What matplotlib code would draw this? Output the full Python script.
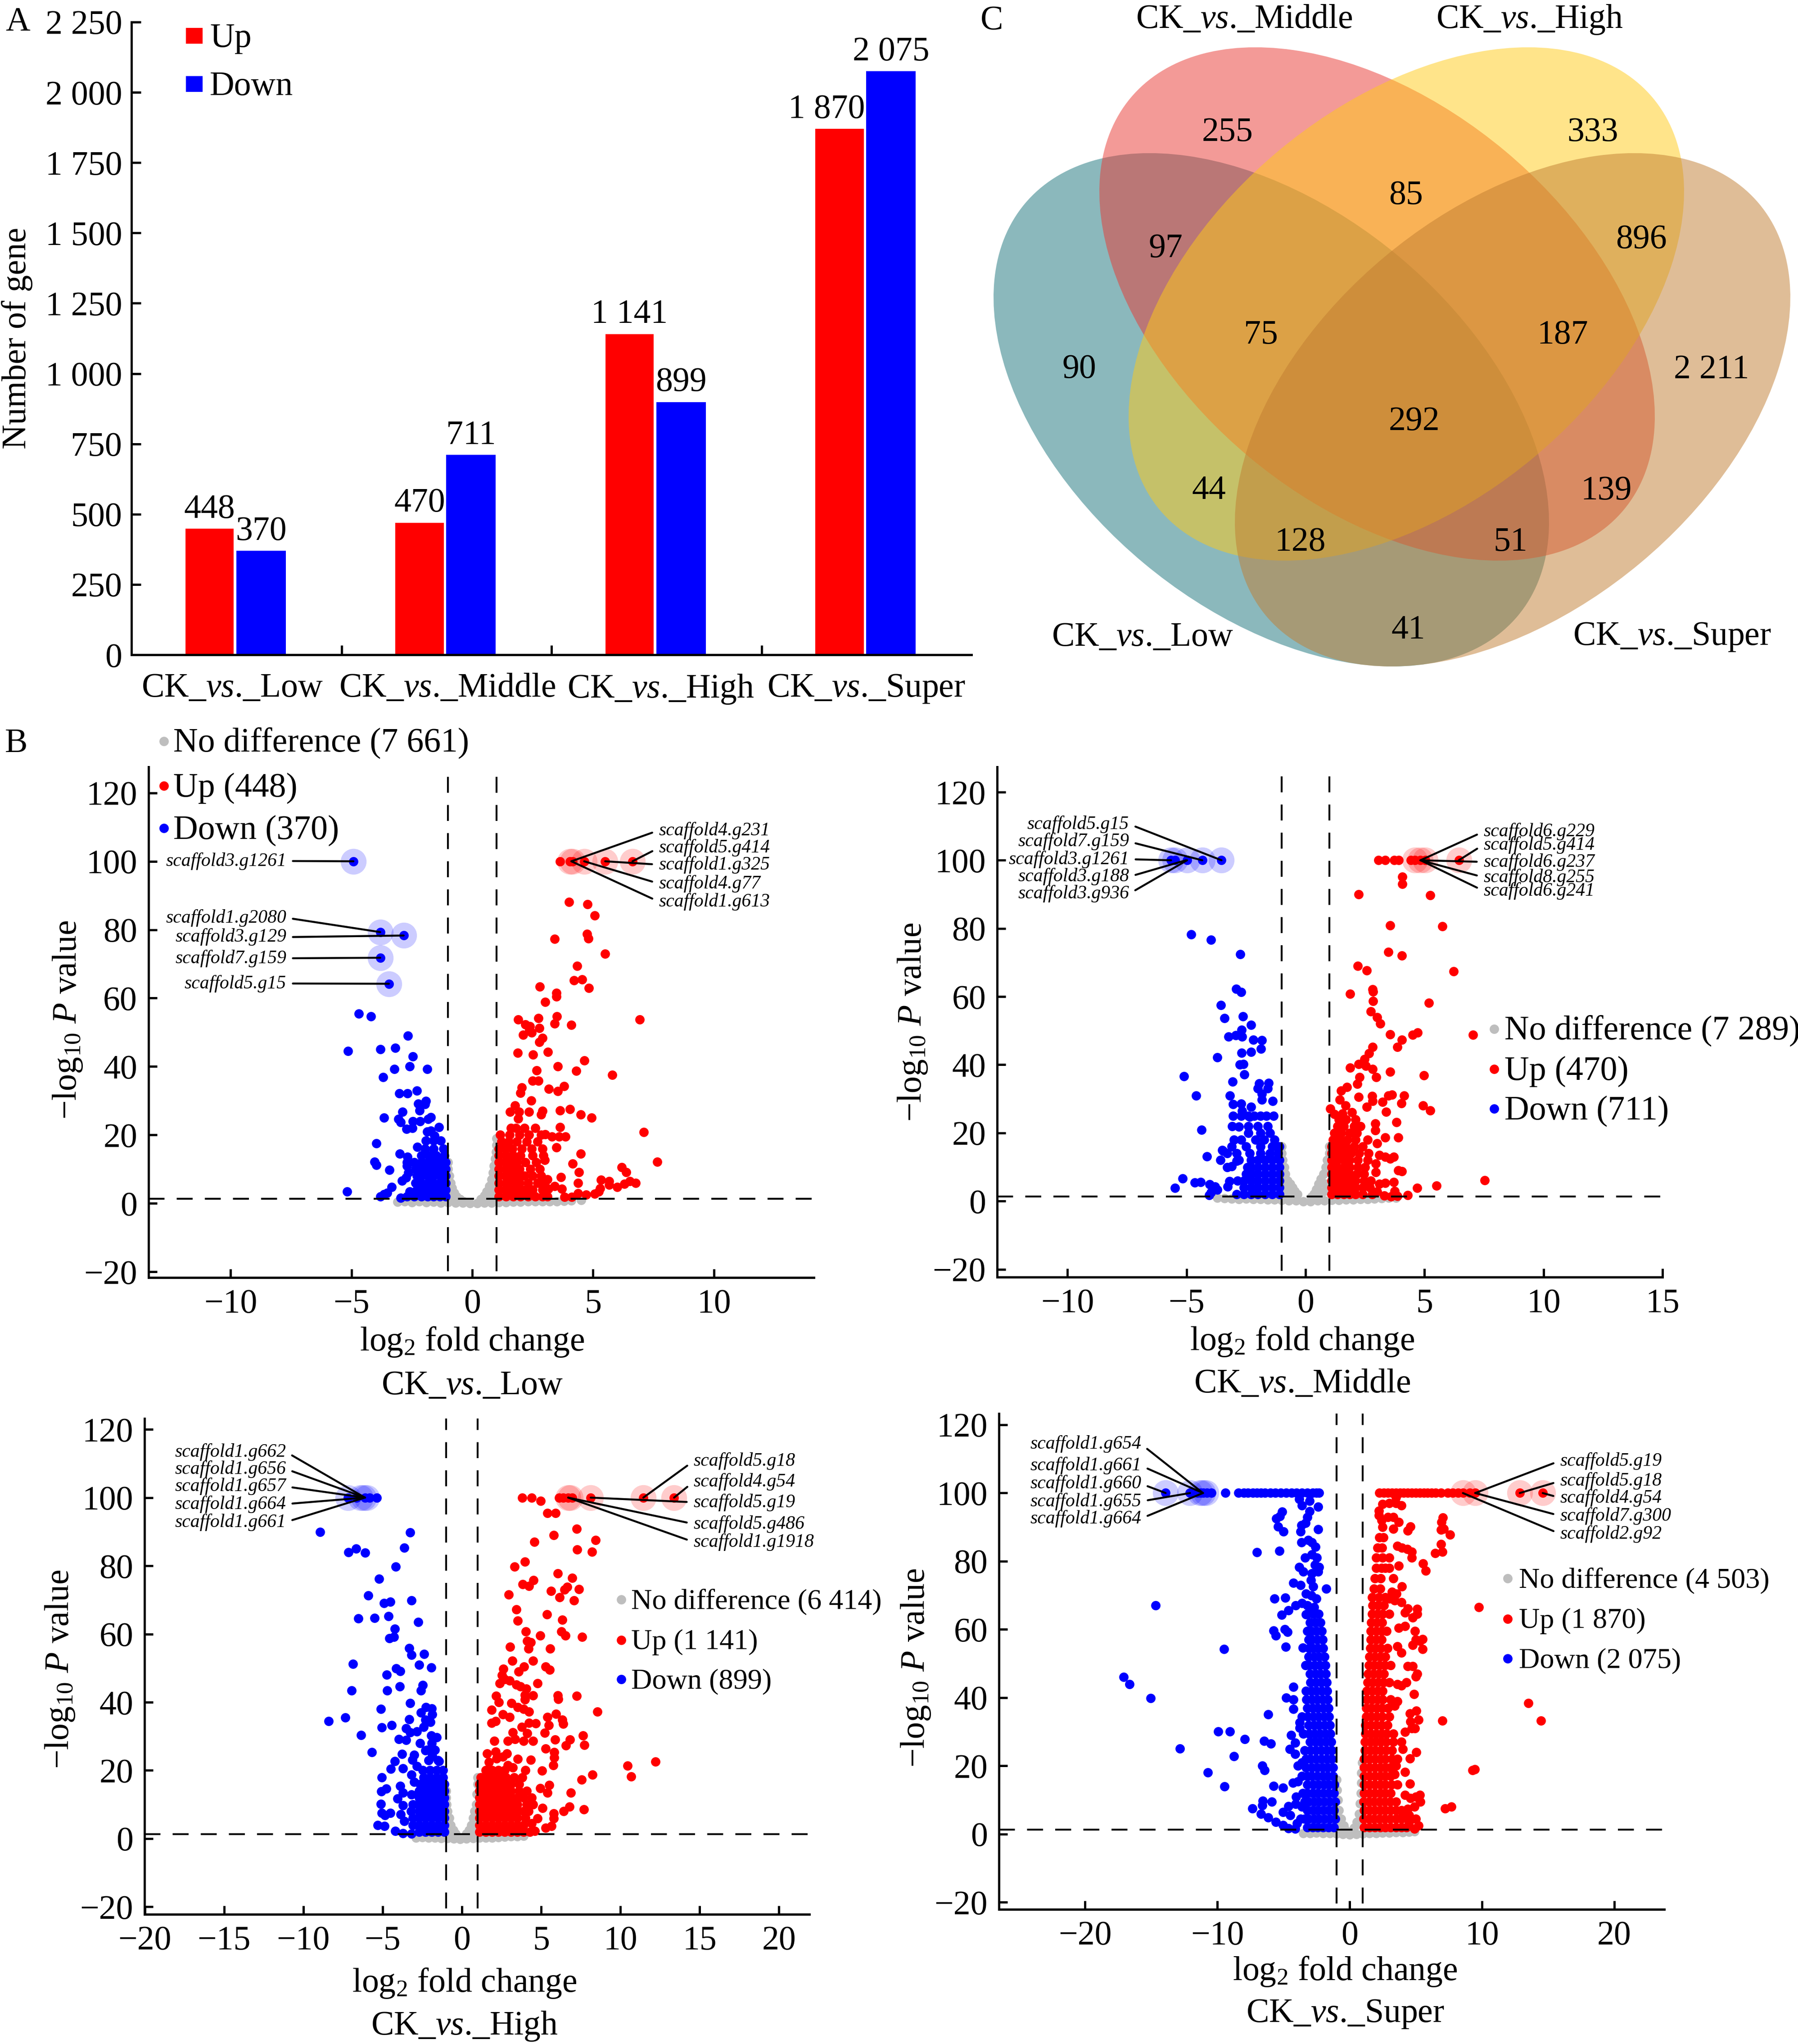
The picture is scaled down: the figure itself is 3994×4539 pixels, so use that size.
import matplotlib
matplotlib.use("Agg")
import matplotlib.pyplot as plt
from matplotlib.patches import Ellipse, Rectangle

plt.rcParams["font.family"] = ["Liberation Serif", "DejaVu Serif"]
plt.rcParams["mathtext.fontset"] = "custom"
plt.rcParams["mathtext.rm"] = "Liberation Serif"
plt.rcParams["mathtext.it"] = "Liberation Serif:italic"
plt.rcParams["mathtext.bf"] = "Liberation Serif:bold"

W, H = 3994, 4539
FS = 18.2
DOT = 25

# panel A
groups = ["Low", "Middle", "High", "Super"]
up_counts = [448, 470, 1141, 1870]
down_counts = [370, 711, 899, 2075]
count_ticks = [0, 250, 500, 750, 1000, 1250, 1500, 1750, 2000, 2250]

# panel C
venn_sets = ["Low", "Middle", "High", "Super"]
venn_counts = [255, 333, 85, 97, 896, 75, 187, 90, 2211, 292, 44, 139, 128, 51, 41]

# panel B, significant points: (log2fc, -log10p)
grey_low = [(-3.1,.4),(-2.8,.5),(-2.5,.3),(-2.2,.5),(-1.9,.3),(-1.6,.4),(-1.3,.2),(-1,.3),(-.7,.1),(-.4,.1),(-.1,0),(.2,0),(.5,.1),(.8,.2),(1.1,.3),(1.4,.3),(1.7,.4),(2,.4),(2.3,.5),(2.6,.5),(2.9,.6),(3.2,.6),(3.5,.6),(3.8,.7),(4.1,.8),(4.5,1),
    (-1,12),(-1,10),(-.95,8),(-.9,6),(-.85,4.5),(-.75,3),(-.65,2),(-.5,1.2),(-.35,.6),(-1,2),(-1,4),(-1,6),(-.85,2),
    (1,19),(1,17),(.98,15),(.95,13),(.9,11),(.85,9),(.8,7),(.7,5),(.6,3.5),(.5,2.2),(.35,1.2),(.95,5),(.95,8),(.9,3),(.75,2)]
down_low = [(-4.92,100),(-3.81,79.3),(-2.84,78.3),(-3.81,71.8),(-3.45,64.2),(-4.7,55.5),(-4.2,54.6),(-2.66,49),(-5.15,44.5),(-3.81,45),(-3.18,45.4),(-2.46,43),(-2.6,40.1),(-3.23,39.2),(-1.87,39.3),(-3.7,36.9),(-3.02,32.2),(-2.69,32.2),(-2.3,33),(-2.23,29.1),(-1.92,29.9),(-1.96,29),(-2.89,26.7),(-2.19,27.1),(-3.66,25.1),(-3.05,24.7),(-2.96,23.7),(-1.72,25.2),(-1.83,24.6),(-2.46,24),(-2.17,24),(-2.73,21.7),(-2.48,22),(-1.38,22.3),(-1.87,21),(-1.72,21.2),(-1.56,19.8),(-3.97,17.5),(-1.92,18.3),(-1.31,18.3),(-1.6,18.3),(-2.28,16.5),(-3,14.5),(-2.69,13.6),(-4.04,12.1),(-3.97,11.2),(-3.43,9.8),(-2.7,11),(-2.65,9),(-2.75,7.5),(-2.91,6.6),(-3.34,4.8),(-5.19,3.5),(-3.52,3),(-3.65,2.6),(-3.81,2),(-2.96,1.6),(-2.6,3.5)]
down_low_rows = [(2,[-1.1,-1.35,-1.6,-1.85,-2.1,-2.4,-2.7]),(4,[-1.1,-1.35,-1.6,-1.85,-2.1,-2.3]),(6,[-1.1,-1.35,-1.6,-1.85,-2.1,-2.35]),(8,[-1.1,-1.35,-1.6,-1.85,-2.1,-2.3]),(10,[-1.1,-1.35,-1.6,-1.85,-2.1,-2.35]),(12,[-1.1,-1.35,-1.6,-1.85,-2.1,-2.4,-2.7]),(14,[-1.15,-1.5,-1.8,-2.1]),(16,[-1.2,-1.6,-1.95])]
up_low = [(3.63,100),(4.04,100),(4.15,100),(4.63,100),(5.5,100),(6.63,100),(4,88.1),(4.76,87.4),(5.06,84.2),(4.74,78.8),(4.81,77.4),(3.41,77.3),(5.49,73),(4.33,69.4),(4.2,65.2),(4.54,65.4),(4.83,63),(2.8,63.4),(3.48,61.5),(3.48,60.4),(3.02,58.9),(6.93,53.8),(1.9,53.7),(2.73,54.2),(3.5,54.6),(3.41,52.6),(4.09,52.1),(2.19,52.3),(2.39,51.8),(2.37,50.7),(2.78,51.2),(2.1,49.3),(2.46,49.9),(2.91,48.4),(2.78,47.2),(1.87,44),(2.51,43.5),(3.12,44.3),(4.63,41.7),(3.54,40),(4.31,38.7),(2.66,38.8),(5.8,37.5),(2.5,35.8),(2.73,35.8),(2.05,33.9),(2,32.3),(3.16,33.4),(3.54,32.8),(3.79,34.3),(2.44,30),(1.76,28.6),(3.63,27.1),(4.04,27.6),(4.49,25.9),(4.94,25.1),(1.56,26.7),(1.94,26.7),(2.35,26.7),(2.91,27),(2.84,25.9),(1.9,24.8),(3.02,20.2),(3.3,19.5),(3.59,19.5),(3.86,19.5),(3.63,22.3),(3.48,16.4),(4.49,14.5),(4.15,11.6),(6.18,10.5),(6.37,9.1),(7.65,12.2),(7.09,20.8),(4.42,9.1),(3.66,7.6),(4.38,6),(5.33,6.9),(5.67,6.5),(5.67,5.4),(6,4.8),(6.3,5.7),(6.52,6.5),(6.77,5.9),(5.28,4.4),(5.24,3.5),(5.06,2.8),(4.72,2.5),(4.38,2.9),(4.11,1.9),(3.81,1.9),(3.41,5),(3.14,4.2),(3.7,4.2),(3.1,7),(3,12.6)]
up_low_rows = [(2,[1.1,1.4,1.7,2,2.3,2.6,2.9,3.1]),(4,[1.1,1.35,1.6,1.9,2.2,2.5,2.9]),(6,[1.1,1.4,1.7,1.95,2.3,2.7,3]),(8,[1.1,1.35,1.6,1.9,2.15,2.5,2.85]),(10,[1.1,1.4,1.7,1.95,2.4,2.8]),(12,[1.1,1.35,1.6,1.85,2.2,2.65]),(14,[1.1,1.4,1.7,2,2.5,2.95]),(16,[1.1,1.35,1.65,2.05,2.45,2.9]),(18,[1.2,1.5,1.85,2.25,2.7]),(20,[1.15,1.55,1.95,2.35,2.85]),(22,[1.6,1.8,2.15,2.6])]

grey_middle = [(-3.7,.9),(-3.4,.8),(-3.1,.7),(-2.8,.6),(-2.5,.7),(-2.2,.6),(-1.9,.6),(-1.6,.4),(-1.3,.4),(-1,.3),(-.7,.1),(-.4,.1),(-.1,-.1),(.2,-.1),(.5,.1),(.8,.2),(1.1,.3),(1.4,.3),(1.7,.4),(2,.4),(2.3,.5),(2.6,.6),(2.9,.7),(3.2,.8),(3.5,.9),(3.8,1),
    (-1,16),(-1,14),(-.97,12),(-.9,10),(-.85,8),(-.75,6),(-.65,5),(-.55,4),(-.45,3),(-.35,2),(-.9,5),(-.85,3),(-.7,2),
    (1,16),(1,14),(.9,12),(.85,10),(.75,8),(.65,6.5),(.55,5),(.45,3.5),(.35,2.2),(.25,1.2),(.85,5),(.8,3),(.6,2)]
down_middle = [(-3.53,100),(-4.34,100),(-5.65,100),(-5.48,100),(-4.98,100),(-4.81,78.2),(-3.97,76.7),(-2.74,72.4),(-2.91,62.3),(-2.71,61.4),(-3.55,57.5),(-3.4,53.7),(-2.64,54.2),(-2.29,51.7),(-2.69,50.2),(-3.23,48.3),(-2.94,48.7),(-2.66,48.3),(-2.2,47.3),(-1.83,47.2),(-1.87,44.7),(-2.29,43.8),(-2.69,43.5),(-3.7,42.2),(-2.76,40),(-2.61,40.2),(-2.57,37.2),(-5.11,36.6),(-3.06,35.1),(-1.95,34.5),(-1.55,34.7),(-2,33),(-1.6,33),(-1.83,31.5),(-4.59,30.9),(-3.18,31),(-1.83,29.8),(-1.38,29.3),(-3.05,28.5),(-2.7,28.6),(-2.3,27.7),(-2.66,26.5),(-3.05,25),(-2.35,24.8),(-4.37,20.9),(-3.08,22),(-2.8,21.8),(-4.14,13.1),(-3.47,14.7),(-3.57,12),(-5.16,6.7),(-5.48,3.8),(-4.65,5.5),(-4.4,5.6),(-4.03,4.9),(-3.8,4.2),(-3.97,2.5),(-4.05,1.7),(-3.27,4.2),(-3.2,5.9),(-3.7,3.3),(-3.3,10),(-3.1,10.2),(-2.9,11.8),(-3.5,15)]
down_middle_rows = [(2,[-1.1,-1.4,-1.7,-2,-2.3,-2.6,-2.9]),(4,[-1.1,-1.4,-1.7,-2,-2.3,-2.6]),(6,[-1.1,-1.4,-1.7,-2,-2.3,-2.6,-2.85]),(8,[-1.1,-1.4,-1.7,-2,-2.3,-2.5]),(10,[-1.1,-1.4,-1.7,-2,-2.3,-2.45]),(12,[-1.1,-1.4,-1.7,-2,-2.3,-2.8]),(14,[-1.15,-1.5,-1.9,-2.35,-2.9,-3.3]),(16,[-1.1,-1.4,-1.9,-2.5,-3.1]),(18,[-1.3,-1.75,-2.1,-2.7,-3]),(20,[-1.5,-1.9,-2.4]),(22,[-1.6,-2,-2.4]),(25,[-1.35,-1.65,-1.9,-2.15,-2.4,-2.7])]
up_middle = [(3.06,100),(3.35,100),(3.72,100),(3.92,100),(4.42,100),(4.59,100),(4.83,100),(5.03,100),(6.44,100),(4.07,95.1),(4.07,93),(2.24,90),(5.23,89.7),(3.55,80.9),(5.75,80.6),(3.48,73.1),(4.05,72.1),(2.2,69),(2.57,67.7),(6.22,67.4),(2.81,62.1),(2.84,61.5),(1.87,60.8),(2.84,58.7),(5.18,58.2),(2.74,55.6),(3.01,53.9),(3.13,52.1),(7.03,48.8),(4.71,49.4),(4.51,48.8),(3.55,48.9),(4.05,47.3),(3.85,45.2),(2.81,45.2),(2.66,43.4),(2.47,41.6),(2.24,40.2),(1.87,39.1),(2.54,39.7),(2.81,38.8),(3.55,38),(4.98,36.9),(2.27,36.4),(2.96,36.4),(2.17,34.4),(1.73,33.4),(1.5,32.4),(4.14,31),(3.63,31.2),(3.48,30.9),(2.79,30.8),(2.24,30.6),(1.43,29.7),(2.81,29.3),(3.23,29.1),(4.02,28.7),(4.93,28.1),(5.23,26.6),(1.04,27.1),(1.68,28.1),(2.57,27.7),(3.38,26.2),(1.2,25.5),(1.55,25.7),(1.95,26),(3.82,23.2),(2.94,22.7),(2.94,20.8),(3.9,18.7),(3.35,18.7),(3,17),(7.52,6.1),(5.5,4.5),(4.69,3.8),(4.29,1.8),(3.85,1.5),(3.6,1.4),(3.3,1.6),(3,2.8),(3.1,5),(3.35,5.3),(3.7,5.6),(3.75,3),(3.9,9),(4.05,8.7),(3.1,13.5),(3.35,13),(3.55,12.5),(3.7,13),(2.95,11),(2.95,8.5)]
up_middle_rows = [(2,[1.1,1.35,1.6,1.85,2.1,2.4,2.8]),(4,[1.1,1.35,1.6,1.85,2.1,2.4,2.7]),(6,[1.1,1.35,1.6,1.85,2.1,2.45,2.75]),(8,[1.1,1.35,1.6,1.85,2.15,2.45]),(10,[1.1,1.35,1.6,1.85,2.2,2.5]),(12,[1.1,1.35,1.6,1.85,2.2,2.6]),(14,[1.1,1.35,1.6,1.9,2.25,2.65]),(16,[1.1,1.4,1.7,2.05,2.4]),(18,[1.15,1.45,1.75,2.1,2.6]),(20,[1.2,1.5,1.85,2.15]),(22,[1.35,1.6,2.05,2.3]),(24,[1.4,1.7,2.1])]

grey_high = [(-2.9,.3),(-2.5,.4),(-2.1,.3),(-1.7,.2),(-1.3,.1),(-.9,.1),(-.5,0),(-.1,-.1),(.3,0),(.7,.1),(1.1,.2),(1.5,.3),(1.9,.3),(2.3,.4),(2.7,.5),(3.1,.6),(3.5,.7),(3.9,.8),
    (-1,14),(-1,12),(-.95,10),(-.9,8),(-.8,6),(-.7,4),(-.55,2.5),(-.4,1.4),(-.9,3),(-.75,1.6),
    (1,18),(1,16),(.95,13),(.9,10),(.8,8),(.7,6),(.6,4),(.45,2.5),(.3,1.4),(.85,3.5),(.7,1.8)]
down_high = [(-7.17,100),(-6.64,100),(-6.11,100),(-5.83,100),(-5.37,100),(-8.94,89.9),(-3.25,89.8),(-3.64,85.3),(-6.68,85.1),(-7.14,84),(-6.11,83.9),(-4.17,79.7),(-5.23,76.2),(-5.9,71.3),(-4.52,69.4),(-4.91,69),(-3.18,69.9),(-4.63,65.2),(-5.51,64.7),(-6.54,64.5),(-2.76,63.5),(-4.24,61.5),(-4.28,59.1),(-4.56,58.8),(-3.32,55.9),(-3.18,53.9),(-2.37,54.1),(-6.86,51.2),(-2.69,50.9),(-1.94,50.2),(-4.13,49.9),(-3.89,49.1),(-4.73,48),(-3.92,44.6),(-2.47,45),(-2.58,43.4),(-4.7,43.4),(-6.96,43.4),(-3.25,39.8),(-2.26,38.6),(-1.91,38.1),(-5.12,38),(-2.58,36.9),(-1.87,36.4),(-7.35,35.5),(-8.41,34.4),(-3.32,35),(-2.3,34.8),(-1.98,34.2),(-4.42,33.2),(-5.05,32.6),(-3.53,32.3),(-2.4,32.7),(-3.25,31.1),(-2.83,31.4),(-6.36,30.3),(-1.94,30.2),(-1.59,29.7),(-3.96,29.2),(-3.53,28.9),(-2.65,28),(-1.91,28),(-2.3,25.9),(-5.69,25.4),(-3.78,24.8),(-3,24.6),(-1.87,24.3),(-4.24,22.7),(-3.11,23.1),(-1.45,22.7),(-2.83,21.3),(-4.49,20.4),(-3.71,20.6),(-2.47,20),(-3.18,18.8),(-5.05,17.9),(-3,16.6),(-3.89,15.4),(-4.77,14.7),(-5.09,13.9),(-3.71,13.5),(-3.18,12.9),(-4.06,11.8),(-5.12,10.1),(-3.71,9.8),(-5.05,7.5),(-4.52,7.5),(-4.84,6.9),(-3.85,7.1),(-3.64,5.2),(-5.3,3.9),(-4.88,3.7),(-4.2,2.2),(-3.71,1.6),(-3.18,1.5)]
down_high_rows = [(2,[-1.1,-1.5,-1.9,-2.3,-2.7]),(4,[-1.1,-1.5,-1.9,-2.3,-2.7,-3.1]),(6,[-1.1,-1.5,-1.9,-2.3,-2.7,-3.1]),(8,[-1.1,-1.5,-1.9,-2.3,-2.7,-3.2]),(10,[-1.1,-1.5,-1.9,-2.3,-2.7,-3.1]),(12,[-1.1,-1.5,-1.9,-2.3,-2.7]),(14,[-1.1,-1.5,-1.9,-2.3,-2.7]),(16,[-1.1,-1.5,-1.9,-2.3,-2.65]),(18,[-1.2,-1.6,-2,-2.4]),(20,[-1.2,-1.6,-2]),(23,[-1.5,-2.1]),(26,[-1.7,-2.2])]
up_high = [(3.82,100),(4.42,100),(6.15,100),(6.4,100),(6.71,100),(6.96,100),(8.13,100),(11.45,100),(13.39,100),(4.98,99),(5.4,95.5),(5.9,95.5),(7.24,90.9),(5.8,89),(8.45,87.5),(4.59,87),(7.28,84.8),(8.2,84.1),(3.99,81.2),(3.32,79.7),(6.04,77.8),(6.96,76.4),(4.52,75.8),(3.85,74.6),(4.24,74.1),(6.64,73.8),(7.39,73.2),(6.47,73),(5.62,72.6),(2.97,71.6),(6.18,70.8),(7.07,69.9),(3.43,67.2),(5.37,65.7),(3.53,63.9),(6.33,64.2),(4.03,60.8),(6.29,60.8),(6.54,59.6),(4.95,59.6),(7.6,59.1),(4.13,58),(4.35,57.5),(3.04,56.3),(4.2,55.7),(5.58,55.7),(3.18,52.1),(4.49,52.2),(3.92,50.4),(5.3,50.4),(5.55,49.5),(2.61,49.8),(3.57,49),(2.54,47.9),(2.69,46.7),(3,46.4),(2.4,45.6),(3.43,45.2),(3.71,44.6),(4.77,45.5),(4.06,44),(3.99,42.1),(4.49,42),(2.16,41.9),(6.04,42),(7.24,41.9),(6.08,40.9),(2.33,40),(3.14,39.7),(3.99,40.8),(3.53,38.5),(3.89,38),(4.24,37.2),(1.87,37.8),(8.55,37.2),(5.94,36.6),(2.58,36.4),(3,35.7),(5.41,35.7),(6.33,34.8),(2.12,34.4),(1.87,33.9),(4.24,33.9),(4.66,33.8),(6.4,33.6),(5.48,33.2),(3.78,32.7),(3.22,31.1),(5.23,31),(4.13,30.9),(7.63,30.2),(4.49,28.6),(5.87,29),(6.82,29.1),(2.9,28.6),(2.05,28.6),(3.35,29.2),(3.89,28.6),(6.57,27.3),(7.74,27.4),(5.3,26.4),(2.12,25.5),(5.83,25.3),(2.83,25),(1.6,25),(5.83,23.7),(4.35,23.1),(3.53,23.4),(5.76,21.5),(5.05,19.9),(8.23,18.7),(7.56,17.3),(10.46,21.4),(12.23,22.6),(10.67,18.2),(5.51,15.7),(6.89,13.4),(5.41,13.4),(4.95,14.8),(6.78,9.3),(7.7,8.6),(6.43,8.1),(5.8,7.4),(5.09,9),(4.77,5.9),(5.8,5.9),(5.65,3.7),(5.3,3.2),(4.6,2.2),(4.4,4.5),(2.6,24),(2.2,23.5),(1.7,22.5),(2.9,21.5),(3.2,20.8),(4,20)]
up_high_rows = [(2,[1.1,1.5,1.9,2.3,2.7,3.1,3.5,3.9,4.3]),(4,[1.1,1.5,1.9,2.3,2.7,3.1,3.5,3.9]),(6,[1.1,1.5,1.9,2.3,2.7,3.1,3.5,4]),(8,[1.1,1.5,1.9,2.3,2.7,3.1,3.5,3.9,4.2]),(10,[1.1,1.5,1.9,2.3,2.7,3.1,3.5,4.1,4.5]),(12,[1.1,1.5,1.9,2.3,2.7,3.1,3.5,3.9,4.4]),(14,[1.1,1.5,1.9,2.3,2.7,3.1,3.6,4.1]),(16,[1.1,1.5,1.9,2.3,2.7,3.1,3.6]),(18,[1.2,1.6,2,2.4,2.8,3.3,3.8]),(20,[1.5,1.9,2.3,2.7])]

grey_super = [(-3.5,.2),(-3,.3),(-2.5,.4),(-2,.2),(-1.5,.2),(-1,.1),(-.5,0),(0,-.1),(.5,0),(1,.1),(1.5,.2),(2,.3),(2.5,.4),(3,.4),(3.5,.5),(4,.5),(4.5,.6),(4.9,.8),
    (-1,16),(-.95,13),(-.9,10),(-.8,7),(-.65,4.5),(-.45,2.5),(-.3,1.2),(-.9,3),
    (.95,21),(.9,18),(.88,15),(.85,12),(.8,9),(.7,6),(.55,3.5),(.35,1.8),(.8,3)]
down_super = [(-13.9,100),(-12.06,100),(-11.5,100),(-11.26,100),(-11.04,100),(-10.8,100),(-10.46,100),(-9.4,100),(-8.4,100),(-8,100),(-7.7,100),(-7.3,100),(-7,100),(-6.7,100),(-6.4,100),(-6,100),(-5.6,100),(-5.2,100),(-4.8,100),(-4.4,100),(-4,100),(-3.6,100),(-3.2,100),(-2.8,100),(-2.5,100),(-2.3,100),
    (-14.67,67),(-9.49,54.3),(-17.07,46.1),(-16.62,43.9),(-15.03,39.9),(-9.93,30.1),(-9.04,30.1),(-7.93,27.9),(-12.81,25.1),(-8.73,22.8),(-6.47,27.3),(-5.94,26.5),(-10.73,18.1),(-9.44,14),(-6.6,20.1),(-6.43,18.7),(-5.76,14.1),(-5.05,13.6),(-7.36,7.5),(-6.56,9.7),(-6.6,8.5),(-5.9,9.5),(-6.69,6),(-6.16,4.9),(-5.59,3.6),(-5.05,2.7),(-4.61,1.7),(-3.99,3.1),(-5.05,6.4),(-4.61,8.2),(-4.08,8.8),(-4.48,5.5),(-3.72,4.5),(-4.1,1.6),
    (-5.1,94.5),(-5.27,93.2),(-5.54,92.6),(-5.41,90.2),(-5.01,88.7),(-7,82.6),(-5.32,83),(-3.81,98.2),(-3.59,96.4),(-3.01,97.7),(-2.39,96),(-3.01,94.7),(-3.19,93),(-3.63,90.5),(-3.35,91.2),(-3.72,88.7),(-2.39,89.4),(-3.63,85.6),(-3.14,86.2),(-2.84,85.6),(-2.57,84.2),(-3.37,81),(-2.84,82),(-2.48,81),(-3.81,78.3),(-3.5,77),(-2.62,78.9),(-2.3,78.3),(-2.84,76.5),(-2.39,77),(-4.25,73.6),(-3.72,73),(-2.92,74.4),(-2.75,72.6),(-1.77,71.9),(-5.67,69),(-4.88,69.3),(-4.08,67.1),(-4.61,65.6),(-5.14,64.3),(-5.76,59.7),(-5.59,58.2),(-4.9,60),(-4.7,59.3),(-4.83,54.9),(-3.55,54.7),(-4.79,40),(-4.26,43.2),(-4.26,39.5),(-4.26,36.7),(-6.16,35.1),(-4.43,29),(-4.52,25),(-4.12,23.5),(-4.12,26.8),(-3.77,32.7),(-3.77,31.2),(-4.3,15),(-3.9,15.5),(-3.6,17),(-3.9,20),(-3.6,21),(-3.55,12),(-3.6,8),(-4.05,11),
    (-3.3,70.5),(-2.9,70),(-2.5,69),(-3.6,67.7),(-3.2,67),(-2.7,66.5),(-3.3,64.4),(-2.9,65)]
down_super_rows = [(2,[-1.2,-1.6,-2,-2.4,-2.8,-3.2]),(4.5,[-1.1,-1.5,-1.9,-2.3,-2.7,-3.1,-3.4]),(7,[-1.2,-1.6,-2,-2.4,-2.8,-3.2]),(9.5,[-1.1,-1.5,-1.9,-2.3,-2.7,-3.1,-3.4]),(12,[-1.2,-1.6,-2,-2.4,-2.8,-3.2]),(14.5,[-1.15,-1.55,-1.95,-2.35,-2.75,-3.2]),(17,[-1.25,-1.65,-2.05,-2.45,-2.85,-3.2]),(19.5,[-1.25,-1.65,-2.05,-2.45,-2.85,-3.3]),(22,[-1.35,-1.75,-2.15,-2.55,-2.95,-3.3]),(24.5,[-1.35,-1.75,-2.15,-2.55,-2.95,-3.4]),(27,[-1.4,-1.8,-2.2,-2.6,-3]),(29.5,[-1.45,-1.85,-2.25,-2.65,-3.05,-3.5]),(32,[-1.5,-1.9,-2.3,-2.7,-3.1]),(34.5,[-1.55,-1.95,-2.35,-2.75,-3.15,-3.6]),(37,[-1.6,-2,-2.4,-2.8,-3.2]),(39.5,[-1.65,-2.05,-2.45,-2.85,-3.25]),(42,[-1.7,-2.1,-2.5,-2.9,-3.3]),(44.5,[-1.75,-2.15,-2.55,-2.95]),(47,[-1.8,-2.2,-2.6,-3]),(49.5,[-1.85,-2.25,-2.65,-3.05,-3.35]),(52,[-1.9,-2.3,-2.7,-3.1]),(54.5,[-2,-2.4,-2.8,-3.05]),(57,[-2.05,-2.45,-2.85,-3.1]),(59.5,[-2.1,-2.5,-2.9,-3.2]),(62,[-2.2,-2.6,-3]),(64.5,[-2.35,-2.75,-3.2])]
up_super = [(2.26,100),(2.6,100),(2.9,100),(3.2,100),(3.5,100),(3.8,100),(4.1,100),(4.4,100),(4.7,100),(5,100),(5.3,100),(5.6,100),(5.9,100),(6.2,100),(6.5,100),(6.9,100),(7.4,100),(7.8,100),(8.2,100),(8.56,100),(9.1,100),(9.49,100),(12.86,100),(14.59,100),
    (9.75,66.5),(13.5,38.4),(14.45,33.2),(7,33.2),(9.3,18.7),(9.45,19),(7.2,7.5),(7.7,8),(7.05,92.8),(6.95,91.5),(6.9,89.2),(7.1,89.5),(7.6,87.8),(6.9,85),(7,82.8),(6.45,82.4),(5.55,79.4),(5.75,77.2),(4.7,82.8),(4.7,81),(4.35,83.5),(3.95,84),(3.6,84.5),(4.4,89),(4.6,90.2),(3.3,89.5),(3.3,93),(2.9,93),(3.7,91.5),(3.9,96.4),(3.5,97),(3,97),(2.5,96.7),(3.5,98.7),(2.2,94.8),(2.2,93.5),(2.4,92),(2.5,90),(3.7,78.7),(3,81),(3,78),(3.3,75),(3.95,72.6),(3.55,70.5),(3.2,71),(3.9,68),(3.4,68.5),(3,69),(4.4,66.2),(5.1,66),(4.2,65),(5.1,64.5),(4.75,63.5),(4.2,61),(3.7,60.5),(4.95,59.5),(5,57),(5.5,57.2),(5.3,56.6),(5.5,54.3),(4.75,55.5),(3.6,55),(3.9,53.2),(4.4,49.2),(4.75,49.2),(5.1,47),(5,46.2),(4.3,44.5),(3.6,44),(3.9,43.5),(4.85,41),(3.6,39),(3.4,37.6),(5.05,36.2),(4.55,35.4),(4.6,33),(4.7,31),(5.2,33.5),(4.95,31),(4.2,30),(3.9,27),(4,25),(5.05,24),(4.55,22.2),(4.2,18.2),(3.5,20),(3.4,17.5),(4.55,14.8),(4.2,11.5),(5.35,9.5),(5.3,11.5),(5,11),(4.6,10.5),(4.9,8),(4.4,7.4),(5,4.5),(5.2,2.5),(4.9,1.6),(4.5,3.5),(4,5.5),(4.5,5.5)]
up_super_rows = [(2,[1.1,1.5,1.9,2.3,2.7,3.1,3.5,3.9,4.3]),(4.5,[1.05,1.45,1.85,2.25,2.65,3.05,3.5,3.9]),(7,[1.1,1.5,1.9,2.3,2.7,3.1,3.5,3.9]),(9.5,[1.05,1.45,1.85,2.25,2.65,3.05,3.5]),(12,[1.1,1.5,1.9,2.3,2.7,3.1]),(14.5,[1.1,1.5,1.9,2.3,2.7,3.15,3.6]),(17,[1.1,1.5,1.9,2.3,2.7,3.1]),(19.5,[1.1,1.5,1.9,2.3,2.7,3.05]),(22,[1.1,1.5,1.9,2.3,2.7,3.2,3.6]),(24.5,[1.15,1.55,1.95,2.35,2.75,3.2]),(27,[1.15,1.55,1.95,2.35,2.75,3.3]),(29.5,[1.2,1.6,2,2.4,2.8,3.3]),(32,[1.2,1.6,2,2.4,2.85]),(34.5,[1.25,1.65,2.05,2.45,3]),(37,[1.25,1.65,2.05,2.45,2.9]),(39.5,[1.3,1.7,2.1,2.5,3.1]),(42,[1.3,1.7,2.1,2.5]),(44.5,[1.35,1.75,2.15,2.55,3]),(47,[1.4,1.8,2.2,2.6]),(49.5,[1.45,1.85,2.25,2.65,3.1]),(52,[1.5,1.9,2.3,2.7]),(54.5,[1.55,1.95,2.35,2.85]),(57,[1.6,2,2.4]),(59.5,[1.6,2,2.4,2.8]),(62,[1.65,2.05,2.45]),(64.5,[1.7,2.1,2.5,3]),(67,[1.75,2.15,2.6]),(69.5,[1.7,2.2,2.7]),(72,[1.85,2.3]),(75,[1.9,2.35]),(78,[2,2.4,2.7]),(81,[2,2.5]),(84,[2.1,2.45]),(87,[2.25,2.55])]

volcano_names = ["Low", "Middle", "High", "Super"]
volcano_counts = [(7661, 448, 370), (7289, 470, 711), (6414, 1141, 899), (4503, 1870, 2075)]

# gene labels: name, point its line goes to
labels_low_left = [("scaffold3.g1261",-4.92,100),("scaffold1.g2080",-3.81,79.3),("scaffold3.g129",-2.84,78.3),("scaffold7.g159",-3.81,71.8),("scaffold5.g15",-3.45,64.2)]
labels_low_right = [("scaffold4.g231",4.1,100),("scaffold5.g414",6.63,100),("scaffold1.g325",5.5,100),("scaffold4.g77",4.63,100),("scaffold1.g613",4.1,100)]
labels_mid_left = [("scaffold5.g15",-3.53,100),("scaffold7.g159",-4.34,100),("scaffold3.g1261",-5.65,100),("scaffold3.g188",-5.03,100),("scaffold3.g936",-4.98,100)]
labels_mid_right = [("scaffold6.g229",4.83,100),("scaffold5.g414",6.44,100),("scaffold6.g237",4.83,100),("scaffold8.g255",4.83,100),("scaffold6.g241",4.83,100)]
labels_high_left = [("scaffold1.g662",-6.11,100),("scaffold1.g656",-6.11,100),("scaffold1.g657",-6.11,100),("scaffold1.g664",-6.11,100),("scaffold1.g661",-6.11,100)]
labels_high_right = [("scaffold5.g18",11.45,100),("scaffold4.g54",13.39,100),("scaffold5.g19",8.13,100),("scaffold5.g486",6.71,100),("scaffold1.g1918",6.71,100)]
labels_super_left = [("scaffold1.g654",-11.08,100),("scaffold1.g661",-11.08,100),("scaffold1.g660",-13.9,100),("scaffold1.g655",-12.06,100),("scaffold1.g664",-11.08,100)]
labels_super_right = [("scaffold5.g19",9.49,100),("scaffold5.g18",12.86,100),("scaffold4.g54",14.59,100),("scaffold7.g300",9.49,100),("scaffold2.g92",8.56,100)]


def expand(points, rows):
    return list(points) + [(x, y) for y, xs in rows for x in xs]


def thin(v):
    return f"{v:,}".replace(",", " ")


def vs(name):
    return "CK_$\\mathit{vs}$._" + name


def rect(left, top, right, bottom):
    return [left / W, 1 - bottom / H, (right - left) / W, (bottom - top) / H]


fig = plt.figure(figsize=(W / 300, H / 300), dpi=300)

ov = fig.add_axes([0, 0, 1, 1], zorder=5)
ov.set_xlim(0, W)
ov.set_ylim(H, 0)
ov.axis("off")
ov.patch.set_alpha(0)


def label(x, y, s, **kw):
    # text sits a little high with va=center, so push it down
    kw.setdefault("fontsize", FS)
    kw.setdefault("va", "center")
    ov.text(x, y + 5, s, **kw)


for s, x, y in [("A", 40, 45), ("B", 36, 1646), ("C", 2203, 41)]:
    label(x, y, s, ha="center")

# panel A
ax = fig.add_axes(rect(292, 49, 2158, 1454))
cx = [i + 0.5 for i in range(4)]
ax.bar([c - 0.128 for c in cx], up_counts, width=0.23, color="#ff0000")
ax.bar([c + 0.117 for c in cx], down_counts, width=0.236, color="#0000ff")
ax.set_xlim(0, 4)
ax.set_ylim(0, 2250)
ax.spines[["top", "right"]].set_visible(False)
ax.spines[["left", "bottom"]].set_linewidth(1.2)
ax.set_yticks(count_ticks, [thin(v) for v in count_ticks], fontsize=FS)
ax.set_xticks([1, 2, 3], [])
ax.set_xticks([c + n for c, n in zip(cx, [-0.02, 0.005, 0.02, 0])], [vs(g) for g in groups], minor=True, fontsize=FS)
ax.tick_params(axis="both", which="major", direction="in", length=5, width=1.2, pad=5)
ax.tick_params(axis="x", which="minor", length=0, pad=9.5)
for c, u, d in zip(cx, up_counts, down_counts):
    nudge = -7 if u == 1870 else 0
    ax.annotate(thin(u), (c - 0.128, u), xytext=(nudge, 2), textcoords="offset points", ha="center", va="bottom", fontsize=FS)
    ax.annotate(thin(d), (c + 0.117, d), xytext=(0, 2), textcoords="offset points", ha="center", va="bottom", fontsize=FS)
label(38, 746, "Number of gene", rotation=90, ha="center")
ov.add_patch(Rectangle((415, 64), 33, 31, color="#ff0000"))
ov.add_patch(Rectangle((415, 171), 33, 31, color="#0000ff"))
label(466, 80, "Up")
label(466, 187, "Down")

# panel C
venn_shapes = [(2824, 910, 39.87, "#19737a"), (3059, 675, 39.87, "#e93731"), (3124, 675, -39.87, "#ffcb17"), (3360, 910, -39.87, "#c17d31")]
for x, y, ang, col in venn_shapes:
    ov.add_patch(Ellipse((x, y), 2 * 713.6, 2 * 443, angle=ang, facecolor=col, edgecolor="none", alpha=0.5))
venn_xy = [(2727, 290), (3538, 290), (3123, 429), (2589, 547), (3646, 527), (2801, 740), (3471, 740), (2397, 816), (3802, 816), (3141, 931), (2685, 1085), (3568, 1085), (2888, 1200), (3355, 1200), (3128, 1394)]
for v, (x, y) in zip(venn_counts, venn_xy):
    label(x, y, thin(v), ha="center")
venn_label_xy = [(2538, 1410), (2764, 39), (3398, 39), (3714, 1410)]
for s, (x, y) in zip(venn_sets, venn_label_xy):
    label(x, y, vs(s), ha="center")

# panel B
panels = [
    dict(rect=(330, 1703, 1808, 2837), xlim=(-13.4, 14.14), ylim=(-21.7, 127.6), xticks=[-10, -5, 0, 5, 10],
         grey=grey_low, down=expand(down_low, down_low_rows), up=expand(up_low, up_low_rows),
         hi_down=[-4.92, -3.81, -2.84, -3.81, -3.45], hi_down_y=[100, 79.3, 78.3, 71.8, 64.2],
         hi_up=[4.04, 4.15, 4.63, 5.5, 6.63], hi_up_y=[100, 100, 100, 100, 100],
         left=labels_low_left, left_x=636, left_y=[1912, 2038, 2081, 2128, 2184],
         right=labels_low_right, right_x=1463, right_y=[1844, 1883, 1920, 1962, 2002],
         leg=(364, 385, [1646, 1745, 1839], FS), ylab=(151, 2260), xlab_y=2975, title_y=3073, xc=1049),
    dict(rect=(2215, 1703, 3693, 2836), xlim=(-12.96, 15), ylim=(-22.3, 127.4), xticks=[-10, -5, 0, 5, 10, 15],
         grey=grey_middle, down=expand(down_middle, down_middle_rows), up=expand(up_middle, up_middle_rows),
         hi_down=[-5.65, -5.48, -4.98, -4.34, -3.53], hi_down_y=[100, 100, 100, 100, 100],
         hi_up=[4.59, 4.83, 5.03, 6.44], hi_up_y=[100, 100, 100, 100],
         left=labels_mid_left, left_x=2508, left_y=[1830, 1869, 1908, 1947, 1985],
         right=labels_mid_right, right_x=3295, right_y=[1847, 1876, 1914, 1948, 1978],
         leg=(3319, 3342, [2285, 2374, 2462], FS), ylab=(2028, 2265), xlab_y=2974, title_y=3069, xc=2893),
    dict(rect=(321, 3150, 1798, 4251), xlim=(-20.02, 21.93), ylim=(-22.2, 123.2), xticks=[-20, -15, -10, -5, 0, 5, 10, 15, 20],
         grey=grey_high, down=expand(down_high, down_high_rows), up=expand(up_high, up_high_rows),
         hi_down=[-7.17, -6.4, -6.2, -6.0], hi_down_y=[100, 100, 100, 100],
         hi_up=[6.71, 6.85, 8.13, 11.45, 13.39], hi_up_y=[100, 100, 100, 100, 100],
         left=labels_high_left, left_x=635, left_y=[3224, 3262, 3301, 3340, 3380],
         right=labels_high_right, right_x=1540, right_y=[3245, 3291, 3336, 3384, 3424],
         leg=(1380, 1402, [3552, 3642, 3729], FS * 0.845), ylab=(134, 3702), xlab_y=4399, title_y=4494, xc=1032),
    dict(rect=(2219, 3139, 3697, 4240), xlim=(-26.5, 23.78), ylim=(-22.05, 123.3), xticks=[-20, -10, 0, 10, 20],
         grey=grey_super, down=expand(down_super, down_super_rows), up=expand(up_super, up_super_rows),
         hi_down=[-13.9, -12.06, -11.3, -11.08, -10.85], hi_down_y=[100, 100, 100, 100, 100],
         hi_up=[8.56, 9.49, 12.86, 14.59], hi_up_y=[100, 100, 100, 100],
         left=labels_super_left, left_x=2535, left_y=[3207, 3255, 3295, 3334, 3372],
         right=labels_super_right, right_x=3465, right_y=[3244, 3289, 3326, 3366, 3406],
         leg=(3349, 3374, [3505, 3595, 3683], FS * 0.845), ylab=(2035, 3699), xlab_y=4373, title_y=4468, xc=2988),
]

for p, name, counts in zip(panels, volcano_names, volcano_counts):
    ax = fig.add_axes(rect(*p["rect"]))
    ax.scatter(*zip(*p["grey"]), s=DOT, color="#bebebe", linewidths=0, zorder=1)
    ax.scatter(*zip(*p["down"]), s=DOT, color="#0000ff", linewidths=0, zorder=2)
    ax.scatter(*zip(*p["up"]), s=DOT, color="#ff0000", linewidths=0, zorder=2)
    ax.scatter(p["hi_down"], p["hi_down_y"], s=190, color="#0000ff", alpha=0.2, linewidths=0, zorder=3)
    ax.scatter(p["hi_up"], p["hi_up_y"], s=190, color="#ff0000", alpha=0.2, linewidths=0, zorder=3)
    ax.set_xlim(*p["xlim"])
    ax.set_ylim(*p["ylim"])
    ax.spines[["top", "right"]].set_visible(False)
    ax.spines[["left", "bottom"]].set_linewidth(1.2)
    ax.set_xticks(p["xticks"])
    ax.set_yticks([-20, 0, 20, 40, 60, 80, 100, 120])
    ax.tick_params(axis="both", direction="in", length=4.5, width=1.2, labelsize=FS, pad=6)
    dash = (0, (8.5, 6.5))
    ax.axvline(-1, ymin=0.012, color="k", lw=1, ls=dash, zorder=4)
    ax.axvline(1, ymin=0.012, color="k", lw=1, ls=dash, zorder=4)
    ax.axhline(1.3, color="k", lw=1, ls=dash, zorder=4)
    for (s, x, y), py in zip(p["left"], p["left_y"]):
        ax.annotate(s, xy=(x, y), xytext=(p["left_x"], py), textcoords=ov.transData, ha="right", va="center",
                    fontsize=10, style="italic", annotation_clip=False, zorder=6,
                    arrowprops=dict(arrowstyle="-", color="k", lw=1.05, relpos=(1, 0.5), shrinkA=1.5, shrinkB=0))
    for (s, x, y), py in zip(p["right"], p["right_y"]):
        ax.annotate(s, xy=(x, y), xytext=(p["right_x"], py), textcoords=ov.transData, ha="left", va="center",
                    fontsize=10, style="italic", annotation_clip=False, zorder=6,
                    arrowprops=dict(arrowstyle="-", color="k", lw=1.05, relpos=(0, 0.5), shrinkA=1.5, shrinkB=0))
    mx, tx, ys, fs = p["leg"]
    texts = [f"No difference ({thin(counts[0])})", f"Up ({thin(counts[1])})", f"Down ({thin(counts[2])})"]
    for t, py, col in zip(texts, ys, ["#bebebe", "#ff0000", "#0000ff"]):
        ov.scatter([mx], [py], s=DOT, color=col, linewidths=0)
        label(tx, py, t, fontsize=fs)
    label(p["ylab"][0], p["ylab"][1], "$-$log$_{10}$ $\\mathit{P}$ value", rotation=90, ha="center")
    label(p["xc"], p["xlab_y"], "log$_2$ fold change", ha="center")
    label(p["xc"], p["title_y"], vs(name), ha="center")

ov.set_xlim(0, W)
ov.set_ylim(H, 0)
fig.savefig("out.png", dpi=300)
